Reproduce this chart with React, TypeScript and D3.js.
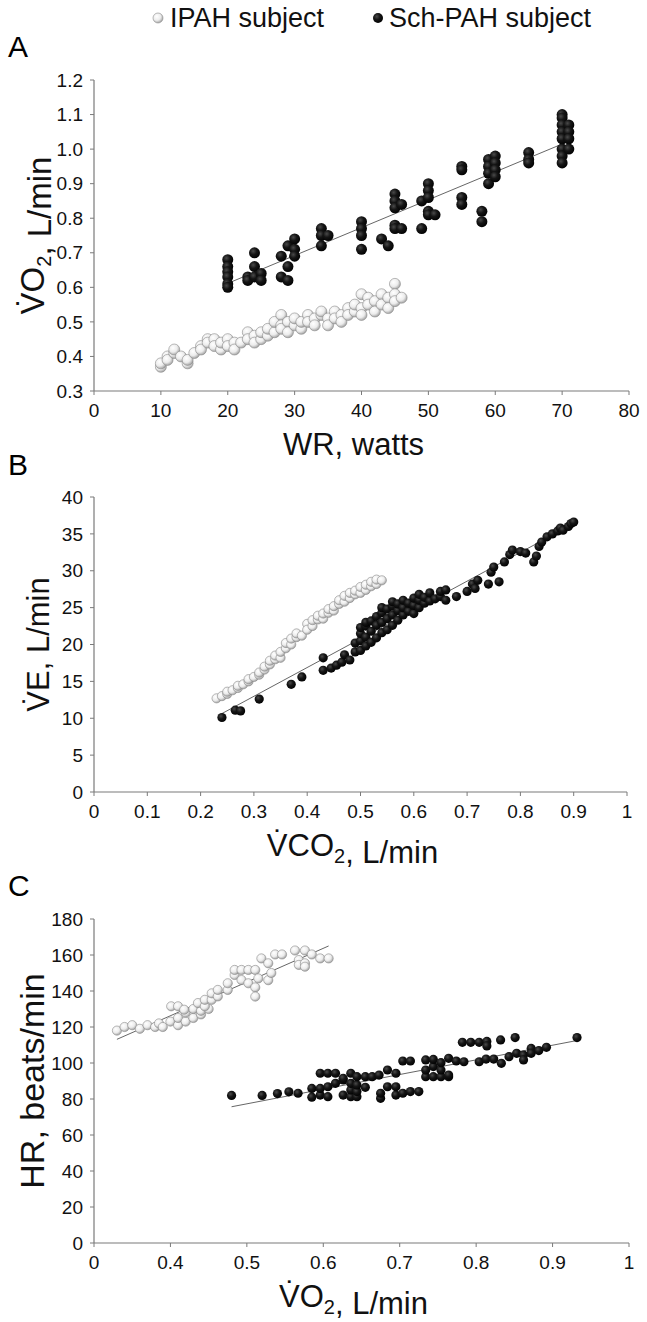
import React from "react";
import * as d3 from "d3";

type Pt = [number, number];

// ---------- Panel A: VO2 (L/min) vs WR (watts) ----------
const ipahA: Pt[] = [
  [10, 0.37], [10, 0.38], [11, 0.40], [11, 0.39], [12, 0.41], [12, 0.42], [13, 0.40], [14, 0.38], [14, 0.39],
  [15, 0.41], [16, 0.43], [16, 0.42], [17, 0.45], [17, 0.44], [18, 0.45], [18, 0.43], [19, 0.42], [19, 0.44],
  [20, 0.45], [20, 0.43], [21, 0.44], [21, 0.42], [22, 0.44], [23, 0.47], [23, 0.45], [24, 0.46], [24, 0.44],
  [25, 0.45], [25, 0.47], [26, 0.46], [26, 0.48], [27, 0.47], [27, 0.50], [28, 0.52], [28, 0.49], [28, 0.48],
  [29, 0.50], [29, 0.47], [30, 0.49], [30, 0.51], [31, 0.48], [31, 0.50], [32, 0.52], [32, 0.50], [33, 0.51],
  [33, 0.49], [34, 0.52], [34, 0.53], [35, 0.51], [35, 0.49], [36, 0.53], [36, 0.51], [37, 0.52], [37, 0.50],
  [38, 0.54], [38, 0.52], [39, 0.53], [39, 0.55], [40, 0.58], [40, 0.54], [40, 0.52], [41, 0.57], [41, 0.55],
  [42, 0.56], [42, 0.53], [43, 0.58], [43, 0.55], [44, 0.57], [44, 0.54], [45, 0.61], [45, 0.58], [45, 0.56],
  [46, 0.57],
];
const schA: Pt[] = [
  [20, 0.68], [20, 0.66], [20, 0.645], [20, 0.63], [20, 0.61], [20, 0.60], [23, 0.63], [23, 0.62], [24, 0.70],
  [24, 0.66], [24, 0.63], [25, 0.64], [25, 0.62], [28, 0.69], [28, 0.63], [29, 0.72], [29, 0.66], [29, 0.62],
  [30, 0.74], [30, 0.71], [30, 0.69], [34, 0.77], [34, 0.75], [34, 0.72], [35, 0.75], [40, 0.79], [40, 0.77],
  [40, 0.75], [40, 0.71], [43, 0.74], [44, 0.72], [45, 0.87], [45, 0.85], [45, 0.83], [45, 0.78], [45, 0.77],
  [46, 0.84], [46, 0.77], [49, 0.77], [49, 0.85], [50, 0.90], [50, 0.88], [50, 0.86], [50, 0.82], [50, 0.81],
  [51, 0.81], [55, 0.95], [55, 0.94], [55, 0.86], [55, 0.84], [58, 0.82], [58, 0.79], [59, 0.97], [59, 0.95],
  [59, 0.93], [59, 0.90], [60, 0.98], [60, 0.96], [60, 0.94], [60, 0.92], [65, 0.99], [65, 0.97], [65, 0.96],
  [70, 1.10], [70, 1.09], [70, 1.07], [70, 1.05], [70, 1.03], [70, 1.00], [70, 0.98], [70, 0.96], [71, 1.07],
  [71, 1.05], [71, 1.03], [71, 1.00],
];

// ---------- Panel B: VE (L/min) vs VCO2 (L/min) ----------
const ipahB: Pt[] = [
  [0.23, 12.7], [0.24, 13.0], [0.25, 13.3], [0.25, 13.6], [0.26, 13.8], [0.27, 14.1], [0.27, 14.4], [0.28, 14.6],
  [0.29, 15.0], [0.29, 15.3], [0.30, 15.6], [0.31, 15.9], [0.31, 16.2], [0.32, 16.6], [0.32, 17.0], [0.33, 17.3],
  [0.33, 17.8], [0.34, 18.0], [0.34, 18.5], [0.35, 18.2], [0.35, 19.0], [0.36, 19.5], [0.36, 20.2], [0.37, 20.0],
  [0.37, 20.8], [0.38, 21.0], [0.38, 21.5], [0.39, 21.2], [0.40, 22.8], [0.40, 22.0], [0.41, 22.5], [0.41, 23.3],
  [0.42, 23.4], [0.42, 23.9], [0.43, 23.5], [0.43, 24.2], [0.44, 24.3], [0.44, 24.8], [0.45, 24.6], [0.45, 25.2],
  [0.46, 25.5], [0.46, 26.0], [0.47, 25.8], [0.47, 26.6], [0.48, 26.3], [0.48, 27.0], [0.49, 26.8], [0.49, 27.3],
  [0.50, 27.0], [0.50, 27.8], [0.51, 27.4], [0.51, 28.1], [0.52, 27.9], [0.52, 28.5], [0.53, 28.2], [0.53, 28.8],
  [0.54, 28.7],
];
const schB: Pt[] = [
  [0.24, 10.1], [0.265, 11.1], [0.275, 11.0], [0.31, 12.6], [0.37, 14.6], [0.39, 15.6], [0.43, 16.5], [0.43, 18.2],
  [0.445, 16.8], [0.455, 17.2], [0.465, 17.6], [0.47, 18.6], [0.48, 17.9], [0.49, 19.0], [0.49, 20.2],
  [0.50, 19.2], [0.50, 20.5], [0.50, 21.5], [0.50, 22.3], [0.51, 19.8], [0.51, 21.0], [0.51, 22.5], [0.51, 23.0],
  [0.52, 20.3], [0.52, 21.8], [0.52, 23.2], [0.53, 20.9], [0.53, 22.6], [0.53, 23.8], [0.54, 21.6], [0.54, 23.0],
  [0.54, 24.3], [0.54, 25.0], [0.55, 22.0], [0.55, 23.5], [0.55, 24.8], [0.56, 22.6], [0.56, 24.0], [0.56, 25.2],
  [0.56, 25.8], [0.57, 23.3], [0.57, 24.6], [0.57, 25.5], [0.58, 24.0], [0.58, 25.0], [0.58, 26.0], [0.59, 24.5],
  [0.59, 25.6], [0.60, 24.2], [0.60, 25.3], [0.60, 26.3], [0.61, 25.0], [0.61, 26.0], [0.61, 26.8], [0.62, 25.6],
  [0.62, 26.4], [0.63, 25.9], [0.63, 27.0], [0.64, 26.2], [0.65, 26.5], [0.65, 27.2], [0.66, 26.0], [0.66, 27.4],
  [0.68, 26.5], [0.70, 27.2], [0.71, 28.2], [0.715, 27.6], [0.72, 28.7], [0.74, 28.2], [0.745, 29.8], [0.75, 30.5],
  [0.76, 28.5], [0.77, 31.2], [0.78, 32.2], [0.785, 32.8], [0.80, 32.6], [0.81, 32.4], [0.825, 31.2], [0.83, 32.0],
  [0.835, 33.3], [0.84, 33.9], [0.85, 34.6], [0.86, 35.0], [0.87, 35.4], [0.875, 35.8], [0.88, 35.5], [0.89, 36.0],
  [0.895, 36.4], [0.90, 36.6],
];

// ---------- Panel C: HR (beats/min) vs VO2 (L/min) ----------
const ipahC: Pt[] = [
  [0.33, 118], [0.34, 120], [0.35, 121], [0.36, 119], [0.37, 121], [0.38, 120], [0.385, 122], [0.39, 120],
  [0.40, 123], [0.41, 121], [0.41, 125], [0.42, 123], [0.42, 128], [0.43, 125], [0.43, 130], [0.44, 127],
  [0.44, 129], [0.45, 130], [0.401, 131.5], [0.41, 131.5], [0.418, 129.6], [0.436, 133.3], [0.445, 131.5],
  [0.445, 135.1], [0.454, 135.1], [0.454, 138.7], [0.462, 137], [0.462, 140.6], [0.475, 140.6], [0.475, 144.3],
  [0.484, 148.9], [0.484, 151.7], [0.493, 146.1], [0.493, 151.7], [0.502, 144.3], [0.502, 151.7], [0.511, 151.7],
  [0.511, 142], [0.511, 136.9], [0.515, 147], [0.519, 158.1], [0.528, 155.4], [0.528, 146], [0.532, 150],
  [0.537, 160.3], [0.546, 160.3], [0.563, 162.5], [0.568, 157.2], [0.568, 154.5], [0.576, 162.5], [0.576, 155.4],
  [0.576, 153.5], [0.585, 160.3], [0.596, 158.1], [0.607, 158.1],
];
const schC: Pt[] = [
  [0.48, 82], [0.52, 82], [0.54, 83], [0.555, 84], [0.567, 83.2], [0.585, 81], [0.585, 85.9], [0.596, 82.2],
  [0.596, 85.9], [0.596, 94.3], [0.606, 81.3], [0.606, 86.8], [0.606, 94.3], [0.616, 88.7], [0.616, 94.3],
  [0.626, 82.2], [0.626, 90.6], [0.626, 91.5], [0.636, 81.3], [0.636, 85], [0.636, 88.7], [0.636, 94.3],
  [0.644, 81.3], [0.644, 84.1], [0.644, 87.8], [0.644, 92.4], [0.655, 86.5], [0.655, 92.4], [0.664, 92.4],
  [0.673, 93.3], [0.675, 80.4], [0.675, 83.2], [0.684, 86.8], [0.684, 96.1], [0.695, 82.2], [0.695, 86.8],
  [0.695, 94.3], [0.704, 83.2], [0.704, 101.1], [0.714, 84.1], [0.714, 101.1], [0.725, 84.1], [0.734, 92.4],
  [0.734, 96.1], [0.734, 101.7], [0.744, 92.4], [0.744, 98], [0.744, 102], [0.754, 92.4], [0.754, 96.1],
  [0.754, 100.2], [0.764, 92.4], [0.764, 93.3], [0.764, 102.6], [0.774, 101.1], [0.782, 111.5], [0.784, 100.7],
  [0.793, 111.5], [0.804, 111.5], [0.804, 100.7], [0.813, 102.2], [0.814, 112], [0.814, 109.5], [0.823, 102.2],
  [0.832, 112.8], [0.833, 99.8], [0.843, 103.5], [0.851, 114.1], [0.853, 105.4], [0.862, 104.4], [0.862, 101.7],
  [0.872, 108.1], [0.872, 105.4], [0.882, 106.9], [0.892, 108.7], [0.932, 114.1],
];

// ---------- Ticks ----------
const ticksAx = [0, 10, 20, 30, 40, 50, 60, 70, 80];
const ticksAy = [0.3, 0.4, 0.5, 0.6, 0.7, 0.8, 0.9, 1.0, 1.1, 1.2];
const ticksBx = [0, 0.1, 0.2, 0.3, 0.4, 0.5, 0.6, 0.7, 0.8, 0.9, 1];
const ticksBy = [0, 5, 10, 15, 20, 25, 30, 35, 40];
const ticksCx = [0.3, 0.4, 0.5, 0.6, 0.7, 0.8, 0.9, 1.0];
const labelsCx = ["0", "0.4", "0.5", "0.6", "0.7", "0.8", "0.9", "1"];
const ticksCy = [0, 20, 40, 60, 80, 100, 120, 140, 160, 180];

const legendLabels = ["IPAH subject", "Sch-PAH subject"];

const FONT = "'Liberation Sans', Arial, Helvetica, sans-serif";
const AXIS = "#7a7a7a";

function fit(pts: Pt[]) {
  const mx = d3.mean(pts, (p) => p[0])!;
  const my = d3.mean(pts, (p) => p[1])!;
  let sxy = 0, sxx = 0;
  for (const [x, y] of pts) { sxy += (x - mx) * (y - my); sxx += (x - mx) * (x - mx); }
  const b = sxy / sxx;
  const a = my - b * mx;
  const [x0, x1] = d3.extent(pts, (p) => p[0]) as [number, number];
  return [[x0, a + b * x0], [x1, a + b * x1]] as Pt[];
}

type PanelProps = {
  letter: string;
  letterY: number;
  left: number; right: number; top: number; bottom: number;
  xDomain: [number, number]; yDomain: [number, number];
  xTicks: number[]; xLabels: string[];
  yTicks: number[]; yLabels: string[];
  white: Pt[]; black: Pt[];
  r: number;
  xTitle: React.ReactNode; yTitle: React.ReactNode;
  yTitleSize: number; yTitleX: number;
  whiteLine: boolean;
};

function Panel(p: PanelProps) {
  const x = d3.scaleLinear().domain(p.xDomain).range([p.left, p.right]);
  const y = d3.scaleLinear().domain(p.yDomain).range([p.bottom, p.top]);
  const line = d3.line<Pt>().x((d) => x(d[0])).y((d) => y(d[1]));
  const lb = fit(p.black);
  const lw = fit(p.white);
  const cy = (p.top + p.bottom) / 2;
  const cx = (p.left + p.right) / 2;
  return (
    <g>
      <text x={8} y={p.letterY} fontSize={30} fontFamily={FONT}>{p.letter}</text>
      <line x1={p.left} x2={p.left} y1={p.top} y2={p.bottom} stroke={AXIS} strokeWidth={1.2} />
      <line x1={p.left} x2={p.right} y1={p.bottom} y2={p.bottom} stroke={AXIS} strokeWidth={1.2} />
      {p.yTicks.map((t, i) => (
        <g key={"y" + i}>
          <line x1={p.left - 4} x2={p.left} y1={y(t)} y2={y(t)} stroke={AXIS} strokeWidth={1} />
          <text x={p.left - 11} y={y(t)} dy="0.35em" textAnchor="end" fontSize={19} fontFamily={FONT} fill="#111">
            {p.yLabels[i]}
          </text>
        </g>
      ))}
      {p.xTicks.map((t, i) => (
        <g key={"x" + i}>
          <line x1={x(t)} x2={x(t)} y1={p.bottom} y2={p.bottom + 4} stroke={AXIS} strokeWidth={1} />
          <text x={x(t)} y={p.bottom + 26} textAnchor="middle" fontSize={19} fontFamily={FONT} fill="#111">
            {p.xLabels[i]}
          </text>
        </g>
      ))}
      <path d={line(lb) || ""} stroke="#555" strokeWidth={0.9} fill="none" />
      {p.whiteLine && <path d={line(lw) || ""} stroke="#555" strokeWidth={0.9} fill="none" />}
      {p.white.map((d, i) => (
        <circle key={"w" + i} cx={x(d[0])} cy={y(d[1])} r={p.r} fill="url(#ballW)" stroke="#8a8a8a" strokeWidth={0.6} />
      ))}
      {p.black.map((d, i) => (
        <circle key={"b" + i} cx={x(d[0])} cy={y(d[1])} r={p.r} fill="url(#ballB)" />
      ))}
      <text x={cx - 8} y={p.bottom + 64} textAnchor="middle" fontSize={31} fontFamily={FONT} fill="#111">
        {p.xTitle}
      </text>
      <text transform={`translate(${p.yTitleX},${cy}) rotate(-90)`} textAnchor="middle" fontSize={p.yTitleSize} fontFamily={FONT} fill="#111">
        {p.yTitle}
      </text>
    </g>
  );
}

const fmt1 = (v: number) => v.toFixed(1);

export default function App() {
  const sub = (s: string) => (
    <>
      <tspan dy={7} fontSize={20}>{s}</tspan>
      <tspan dy={-7}>{""}</tspan>
    </>
  );
  return (
    <svg width={647} height={1322} style={{ position: "absolute", left: 0, top: 0, background: "#fff" }}>
      <defs>
        <radialGradient id="ballW" cx="38%" cy="35%" r="70%">
          <stop offset="0%" stopColor="#ffffff" />
          <stop offset="55%" stopColor="#ececec" />
          <stop offset="100%" stopColor="#9a9a9a" />
        </radialGradient>
        <radialGradient id="ballB" cx="38%" cy="35%" r="70%">
          <stop offset="0%" stopColor="#4a4a4a" />
          <stop offset="45%" stopColor="#151515" />
          <stop offset="100%" stopColor="#000000" />
        </radialGradient>
      </defs>
      <rect width={647} height={1322} fill="#fff" />
      <circle cx={158} cy={18} r={5} fill="url(#ballW)" stroke="#8a8a8a" strokeWidth={0.6} />
      <text x={170} y={27} fontSize={27} fontFamily={FONT} fill="#111">{legendLabels[0]}</text>
      <circle cx={378} cy={18} r={5} fill="url(#ballB)" />
      <text x={389} y={27} fontSize={27} fontFamily={FONT} fill="#111">{legendLabels[1]}</text>

      <Panel
        letter="A" letterY={57}
        left={94} right={629} top={80} bottom={391}
        xDomain={[0, 80]} yDomain={[0.3, 1.2]}
        xTicks={ticksAx} xLabels={ticksAx.map(String)}
        yTicks={ticksAy} yLabels={ticksAy.map(fmt1)}
        white={ipahA} black={schA} r={5.5} whiteLine={false}
        xTitle={"WR, watts"}
        yTitle={<>{"V\u0307O"}{sub("2")}<tspan>{", L/min"}</tspan></>}
        yTitleSize={33} yTitleX={44}
      />
      <Panel
        letter="B" letterY={475}
        left={94} right={627} top={497} bottom={792}
        xDomain={[0, 1]} yDomain={[0, 40]}
        xTicks={ticksBx} xLabels={ticksBx.map(String)}
        yTicks={ticksBy} yLabels={ticksBy.map(String)}
        white={ipahB} black={schB} r={4.6} whiteLine={false}
        xTitle={<>{"V\u0307CO"}{sub("2")}<tspan>{", L/min"}</tspan></>}
        yTitle={"V\u0307E, L/min"}
        yTitleSize={31} yTitleX={49}
      />
      <Panel
        letter="C" letterY={896}
        left={94} right={629} top={919} bottom={1243}
        xDomain={[0.3, 1]} yDomain={[0, 180]}
        xTicks={ticksCx} xLabels={labelsCx}
        yTicks={ticksCy} yLabels={ticksCy.map(String)}
        white={ipahC} black={schC} r={4.6} whiteLine={true}
        xTitle={<>{"V\u0307O"}{sub("2")}<tspan>{", L/min"}</tspan></>}
        yTitle={"HR, beats/min"}
        yTitleSize={34} yTitleX={44}
      />
    </svg>
  );
}
